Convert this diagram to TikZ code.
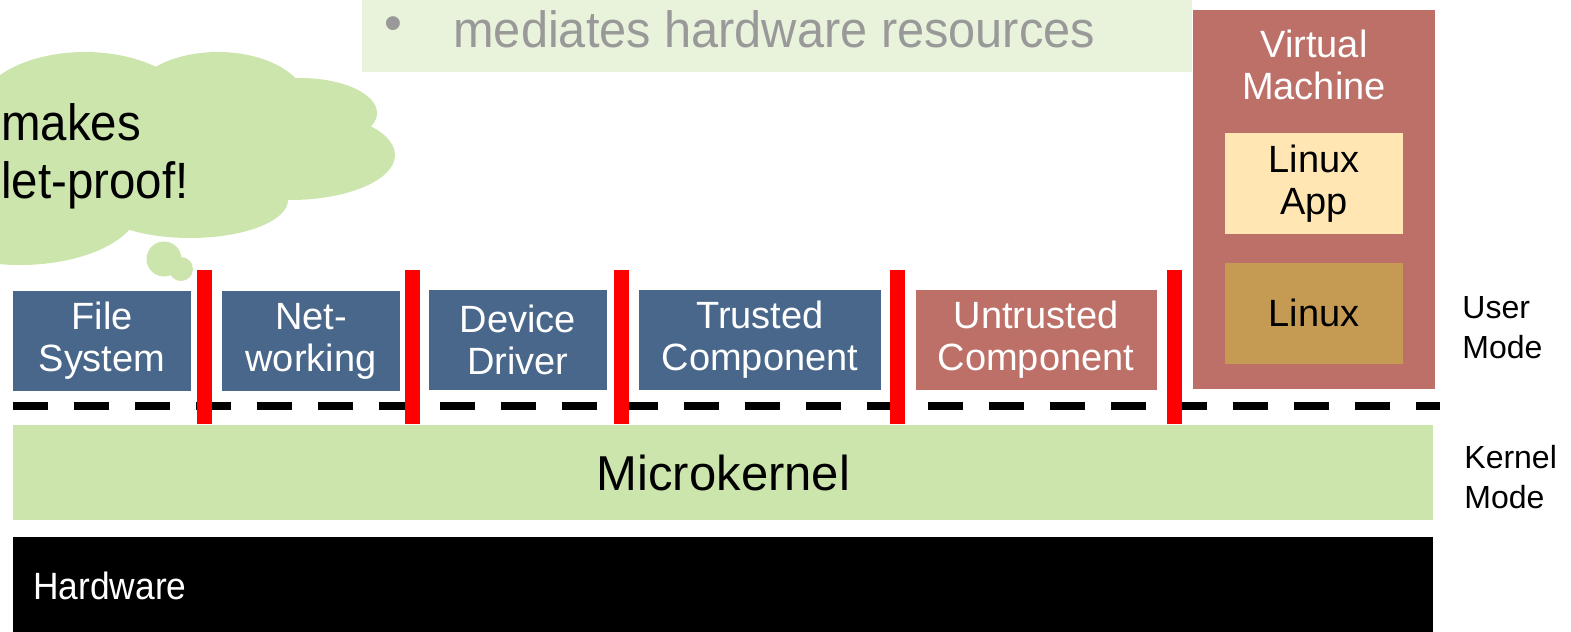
\documentclass[tikz,border=0pt]{standalone}
\usepackage{fontspec}
\setmainfont{Liberation Sans}
\newfontfamily\cloudsans{Liberation Sans}[FakeStretch=0.93]
\newfontfamily\bannersans{Liberation Sans}[FakeStretch=0.955]
\usetikzlibrary{positioning}
\definecolor{compblue}{HTML}{48678A}
\definecolor{untrusted}{HTML}{BD7068}
\definecolor{kernelgreen}{HTML}{CCE5AD}
\definecolor{bannergreen}{HTML}{E9F3DB}
\definecolor{appyellow}{HTML}{FFE6B3}
\definecolor{linuxbrown}{HTML}{C59A52}
\definecolor{bulletgrey}{HTML}{999999}
\newcommand{\boxfont}{\fontsize{19}{21}\selectfont}
\newcommand{\bigfont}{\fontsize{25.5}{29}\selectfont}
\tikzset{
  comp/.style={fill=compblue,text=white,inner sep=0pt,align=center,
    minimum width=89pt,minimum height=50pt,font=\boxfont},
  vmpart/.style={inner sep=0pt,align=center,minimum width=89pt,
    minimum height=50.5pt,font=\boxfont},
  sepbar/.style={fill=red,inner sep=0pt,minimum width=7.5pt,minimum height=77pt},
  layer/.style={anchor=north west,inner sep=0pt,minimum width=710pt,minimum height=47.5pt},
  modelabel/.style={anchor=base west,align=left,inner sep=0pt,font=\fontsize{16}{20}\selectfont},
}
\begin{document}
\begin{tikzpicture}[x=0.5pt,y=-0.5pt]
  \useasboundingbox (0,0) rectangle (1571,632);
  \clip (0,0) rectangle (1571,632);
  % thought cloud
  \fill[kernelgreen] (85,115) ellipse [x radius=110,y radius=63];
  \fill[kernelgreen] (218,105) ellipse [x radius=90,y radius=53];
  \fill[kernelgreen] (300,113) ellipse [x radius=77,y radius=35];
  \fill[kernelgreen] (290,155) ellipse [x radius=105,y radius=45];
  \fill[kernelgreen] (190,200) ellipse [x radius=98,y radius=38];
  \fill[kernelgreen] (20,205) ellipse [x radius=120,y radius=60];
  \fill[kernelgreen] (150,160) ellipse [x radius=140,y radius=60];
  \fill[kernelgreen] (164,259) circle [radius=17.5];
  \fill[kernelgreen] (181,269) circle [radius=12];
  \node[anchor=base west,inner sep=0pt,font=\cloudsans\bigfont] (thought1) at (1,140) {makes};
  \node[anchor=base west,inner sep=0pt,font=\cloudsans\bigfont] (thought2) at (1,198) {let-proof!};
  % bullet banner
  \node[fill=bannergreen,anchor=north west,inner sep=0pt,
    minimum width=415pt,minimum height=36pt] (banner) at (362,0) {};
  \node[text=bulletgrey,inner sep=0pt,font=\bigfont] (bullet) at (393,29) {•};
  \node[anchor=base west,text=bulletgrey,inner sep=0pt,font=\bannersans\bigfont] (bullettext) at (453,47)
    {mediates hardware resources};
  % virtual machine
  \node[fill=untrusted,anchor=north west,inner sep=0pt,
    minimum width=121pt,minimum height=189.5pt] (vm) at (1193,10) {};
  \node[text=white,align=center,inner sep=0pt,font=\boxfont] (vmtitle) at (1314,65) {Virtual\\Machine};
  \node[vmpart,fill=appyellow] (linuxapp) at (1314,183.5) {Linux\\App};
  \node[vmpart,fill=linuxbrown] (linux) at (1314,313) {Linux};
  % user mode components
  \node[comp] (fs) at (102,341) {File\\System};
  \node[comp] (net) at (311,341) {Net-\\working};
  \node[comp] (drv) at (518,340) {Device\\Driver};
  \node[comp,minimum width=121pt] (trusted) at (760,340) {Trusted\\Component};
  \node[comp,fill=untrusted,minimum width=120.5pt] (untrust) at (1036,340) {Untrusted\\Component};
  % mode boundary
  \coordinate (dashL) at (13,406);
  \coordinate (dashR) at (1440,406);
  \draw[line width=4pt,dash pattern=on 17.5pt off 13pt] (dashL) -- (dashR);
  \foreach \x/\name in {204.5/sepa,412.5/sepb,621.5/sepc,897/sepd,1174.5/sepe}
    \node[sepbar] (\name) at (\x,347) {};
  % kernel and hardware
  \node[layer,fill=kernelgreen,font=\fontsize{24.5}{28}\selectfont] (kernel) at (13,425) {Microkernel};
  \node[layer,fill=black,minimum height=50pt] (hw) at (13,537) {};
  \node[anchor=base west,text=white,inner sep=0pt,font=\cloudsans\boxfont] (hwtext) at (33,599) {Hardware};
  \node[modelabel] (usermode) at (1462,358) {User\\Mode};
  \node[modelabel] (kernelmode) at (1464,508) {Kernel\\Mode};
\end{tikzpicture}
\end{document}
